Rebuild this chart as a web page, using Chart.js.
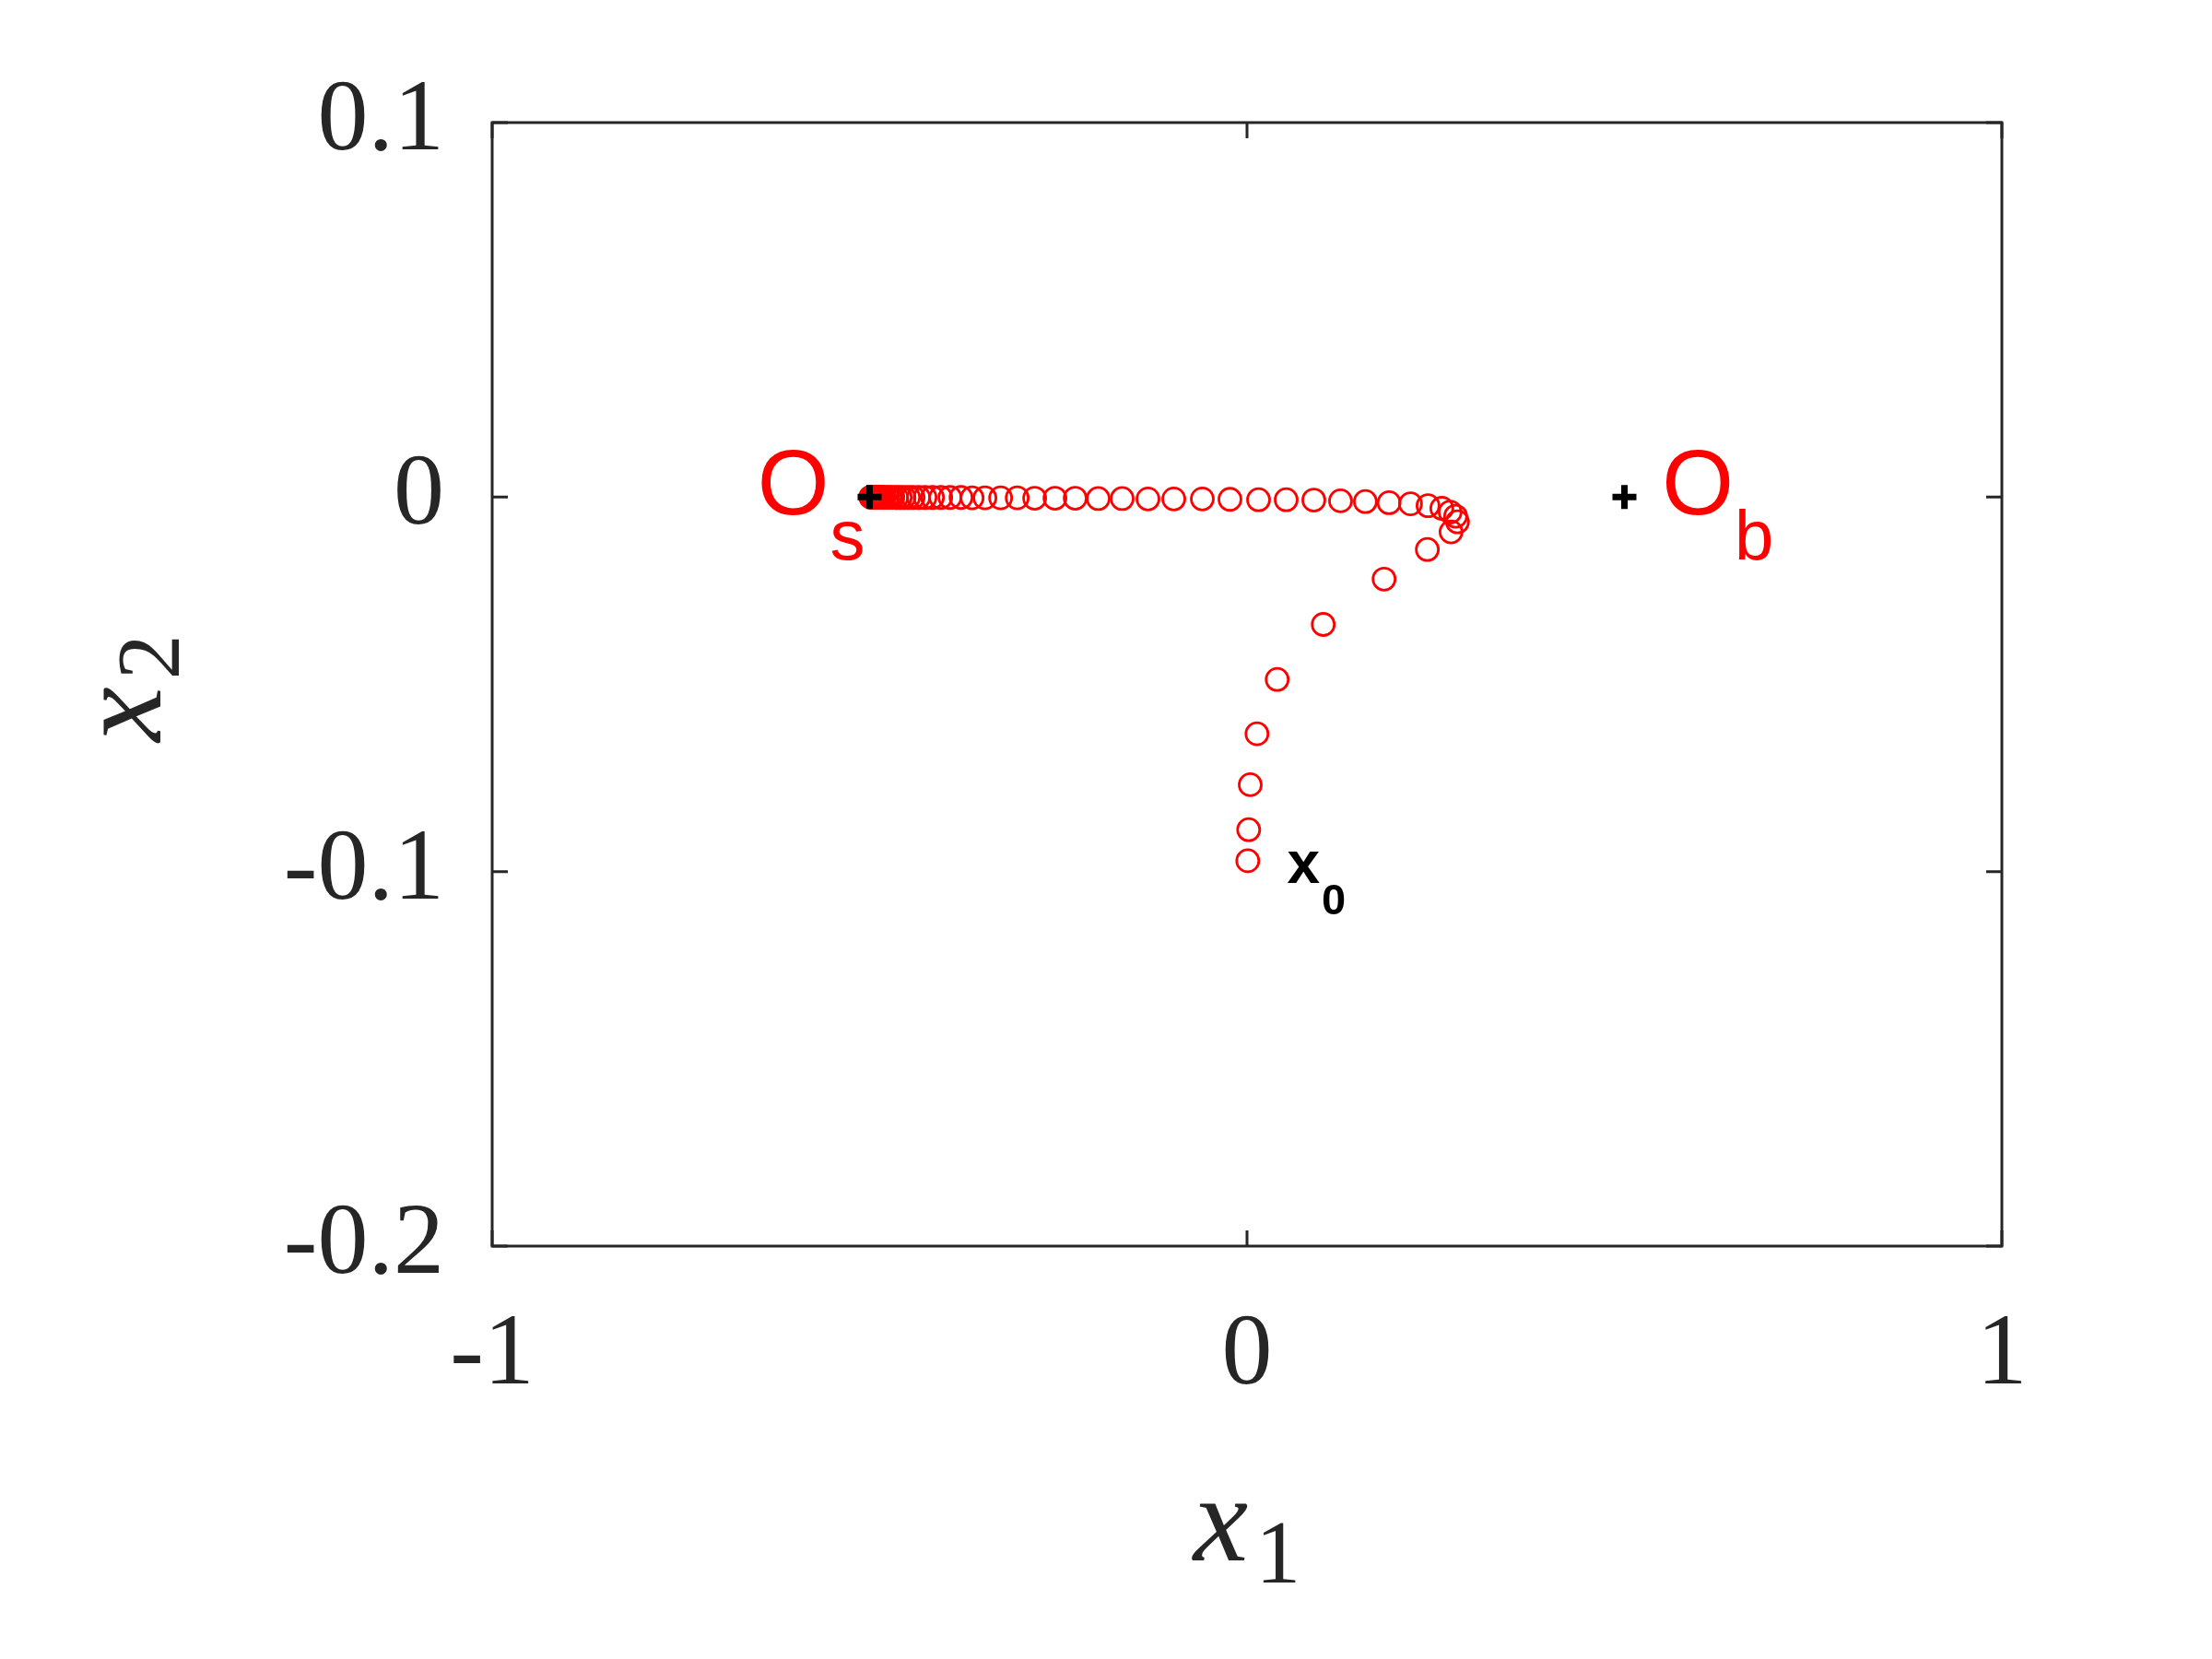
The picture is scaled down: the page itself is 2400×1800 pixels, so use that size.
<!DOCTYPE html>
<html>
<head>
<meta charset="utf-8">
<title>Phase trajectory</title>
<script src="https://cdn.jsdelivr.net/npm/chart.js@4.4.1/dist/chart.umd.min.js"></script>
<style>
  html, body { margin: 0; padding: 0; background: #fff; }
  #wrap { width: 2400px; height: 1800px; }
</style>
</head>
<body>
<div id="wrap"><canvas id="phase" width="2400" height="1800"></canvas></div>
<script>
// ── data ───────────────────────────────────────────────────────────────────
// trajectory from x0 (bottom) up to the saddle O_s
const trajX = [
  0.0010, 0.0022, 0.0043, 0.0132, 0.0400, 0.1010, 0.1816, 0.2389,
  0.2703, 0.2788, 0.2764, 0.2691, 0.2581, 0.2398,
  0.2166, 0.1882, 0.1568, 0.1239, 0.0885, 0.0519, 0.0153, -0.0226, -0.0592,
  -0.0970, -0.1312, -0.1654, -0.1971, -0.2276, -0.2544, -0.2813, -0.3044,
  -0.3264, -0.3472, -0.3642, -0.3789, -0.3935, -0.4057, -0.4167, -0.4265,
  -0.4350, -0.4423,
  -0.4484, -0.4545, -0.4594, -0.4643, -0.4692, -0.4729, -0.4765, -0.4802,
  -0.4826, -0.4851, -0.4875, -0.4899, -0.4911, -0.4924, -0.4936, -0.4948,
  -0.4960, -0.4973, -0.4985
];
const trajY = [
  -0.0971, -0.0888, -0.0768, -0.0632, -0.0487, -0.0340, -0.0219, -0.0140,
  -0.0093, -0.0066, -0.0051, -0.0040, -0.0030, -0.0023,
  -0.0018, -0.0015, -0.0012, -0.0010, -0.0008, -0.0007, -0.0007, -0.0006, -0.0005,
  -0.0005, -0.0005, -0.0004, -0.0004, -0.0003, -0.0003, -0.0003, -0.0002,
  -0.0002, -0.0002, -0.0002, -0.0001, -0.0001, -0.0001, -0.0001, -0.0001,
  -0.0001, -0.0001,
  -0.0001, -0.0001, -0.0001, -0.0001, -0.00005, -0.00005, -0.00005, -0.00005,
  -0.00005, 0, 0, 0, 0, 0, 0, 0,
  0, 0, 0
];
// equilibria (black crosses)
const eqX = [-0.5, 0.5];
const eqY = [0, 0];

const xTicks = [-1, 0, 1];
const yTicks = [-0.2, -0.1, 0, 0.1];

// point labels: [main, subscript] and where they sit
const labelText = [['O', 's'], ['O', 'b'], ['x', '0']];
const labelAt   = [[-0.6486, -0.0046], [0.5497, -0.0046], [0.0531, -0.1031]];

// ── look ───────────────────────────────────────────────────────────────────
const RED   = '#ff0000';
const AXIS  = '#262626';
const SERIF = '"Liberation Serif", "Times New Roman", serif';
const SANS  = '"Liberation Sans", Arial, sans-serif';

const toPts = (xs, ys) => xs.map((x, i) => ({ x: x, y: ys[i] }));

// ─── frame, inward ticks on all four sides, axis titles ─────────────────────
const framePlugin = {
  id: 'frame',
  afterDraw(chart) {
    const { ctx, chartArea: a, scales } = chart;
    const tl = 17;
    ctx.save();
    ctx.strokeStyle = AXIS;
    ctx.lineWidth = 3;
    ctx.strokeRect(a.left, a.top, a.right - a.left, a.bottom - a.top);
    ctx.beginPath();
    xTicks.forEach(v => {
      const px = scales.x.getPixelForValue(v);
      ctx.moveTo(px, a.bottom); ctx.lineTo(px, a.bottom - tl);
      ctx.moveTo(px, a.top);    ctx.lineTo(px, a.top + tl);
    });
    yTicks.forEach(v => {
      const py = scales.y.getPixelForValue(v);
      ctx.moveTo(a.left, py);  ctx.lineTo(a.left + tl, py);
      ctx.moveTo(a.right, py); ctx.lineTo(a.right - tl, py);
    });
    ctx.stroke();

    // x1 title
    ctx.fillStyle = AXIS;
    ctx.textBaseline = 'alphabetic';
    ctx.textAlign = 'left';
    const mainF = 'italic 134px ' + SERIF;
    const subF  = '98px ' + SERIF;
    ctx.font = mainF; const wx = ctx.measureText('x').width;
    ctx.font = subF;  const ws = ctx.measureText('1').width;
    const gap = 8;
    let cx = (a.left + a.right) / 2 - (wx + gap + ws) / 2;
    const by = a.bottom + 341;
    ctx.font = mainF; ctx.fillText('x', cx, by);
    ctx.font = subF;  ctx.fillText('1', cx + wx + gap, by + 24);

    // x2 title, rotated
    ctx.save();
    ctx.translate(174, (a.top + a.bottom) / 2 + 4);
    ctx.rotate(-Math.PI / 2);
    ctx.font = subF; const w2 = ctx.measureText('2').width;
    cx = -(wx + gap + w2) / 2;
    ctx.font = mainF; ctx.fillText('x', cx, 0);
    ctx.font = subF;  ctx.fillText('2', cx + wx + gap, 20);
    ctx.restore();

    ctx.restore();
  }
};

// ─── O_s, O_b, x_0 labels ───────────────────────────────────────────────────
const labelPlugin = {
  id: 'pointLabels',
  afterDatasetsDraw(chart) {
    const { ctx, scales } = chart;
    const styles = [
      { color: RED,    main: '100px ' + SANS,     sub: '76px ' + SANS,      drop: 49, gap: 1 },
      { color: RED,    main: '100px ' + SANS,     sub: '76px ' + SANS,      drop: 49, gap: 1 },
      { color: '#000', main: 'bold 64px ' + SANS, sub: 'bold 47px ' + SANS, drop: 34, gap: 2 }
    ];
    ctx.save();
    ctx.textAlign = 'left';
    ctx.textBaseline = 'alphabetic';
    labelText.forEach((t, i) => {
      const s = styles[i];
      const px = scales.x.getPixelForValue(labelAt[i][0]);
      const py = scales.y.getPixelForValue(labelAt[i][1]);
      ctx.fillStyle = s.color;
      ctx.font = s.main;
      ctx.fillText(t[0], px, py);
      const w = ctx.measureText(t[0]).width;
      ctx.font = s.sub;
      ctx.fillText(t[1], px + w + s.gap, py + s.drop);
    });
    ctx.restore();
  }
};

new Chart(document.getElementById('phase'), {
  type: 'scatter',
  data: {
    datasets: [
      {
        label: 'equilibria',
        data: toPts(eqX, eqY),
        pointStyle: 'cross',
        pointRadius: 13,
        borderWidth: 7,
        borderColor: '#000',
        backgroundColor: '#000'
      },
      {
        label: 'trajectory',
        data: toPts(trajX, trajY),
        pointStyle: 'circle',
        pointRadius: 12,
        borderWidth: 2.8,
        borderColor: RED,
        backgroundColor: 'rgba(0,0,0,0)'
      }
    ]
  },
  options: {
    responsive: false,
    animation: false,
    layout: { padding: { top: 133, right: 228, left: 0, bottom: 0 } },
    plugins: { legend: { display: false }, tooltip: { enabled: false } },
    scales: {
      x: {
        type: 'linear',
        min: -1, max: 1,
        afterBuildTicks: s => { s.ticks = xTicks.map(v => ({ value: v })); },
        afterFit: s => { s.height = 448; },
        grid: { display: false, drawTicks: false },
        border: { display: false },
        ticks: {
          padding: 54,
          color: AXIS,
          font: { family: SERIF, size: 110 },
          callback: v => String(v)
        }
      },
      y: {
        type: 'linear',
        min: -0.2, max: 0.1,
        afterBuildTicks: s => { s.ticks = yTicks.map(v => ({ value: v })); },
        afterFit: s => { s.width = 534; },
        grid: { display: false, drawTicks: false },
        border: { display: false },
        ticks: {
          padding: 52,
          color: AXIS,
          font: { family: SERIF, size: 110 },
          callback: v => String(Math.round(v * 10) / 10)
        }
      }
    }
  },
  plugins: [labelPlugin, framePlugin]
});
</script>
</body>
</html>
